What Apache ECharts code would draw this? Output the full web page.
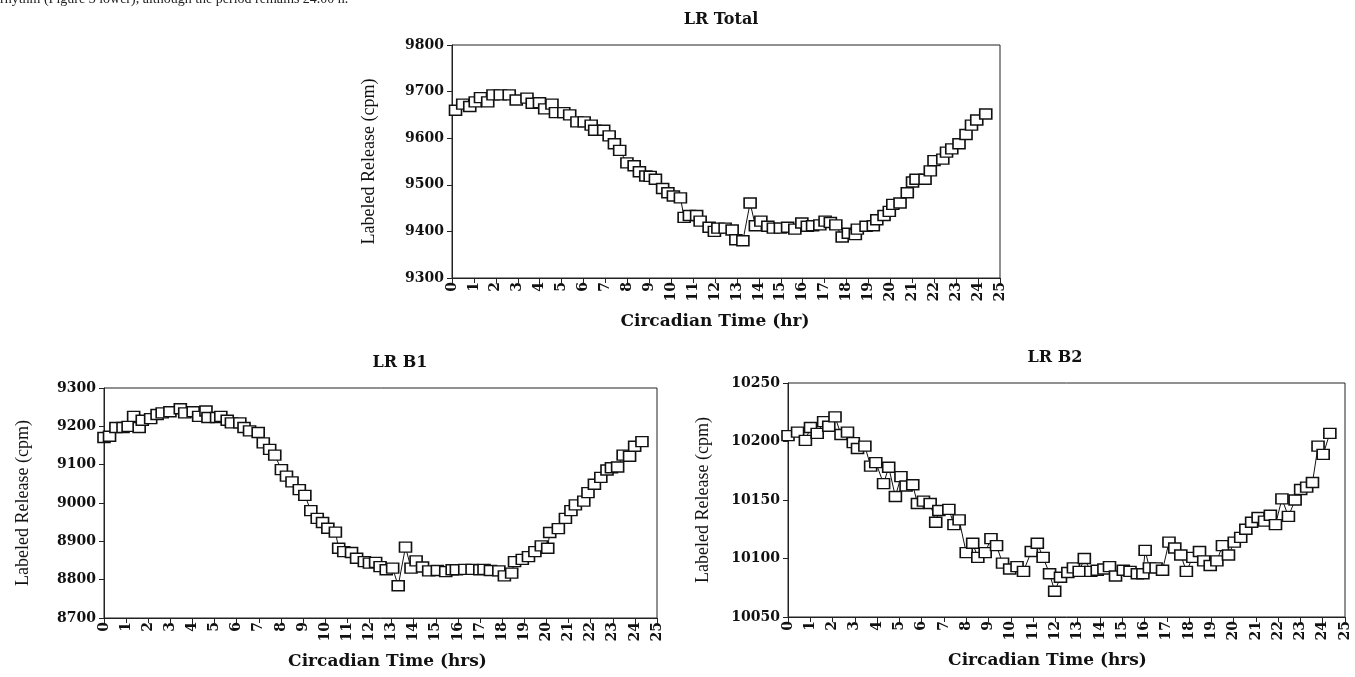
<!DOCTYPE html>
<html>
<head>
<meta charset="utf-8">
<script src="https://cdn.jsdelivr.net/npm/echarts@6/dist/echarts.min.js"></script>
<style>
  html, body { margin: 0; padding: 0; background: #fff; }
  #main { width: 1355px; height: 677px; }
</style>
</head>
<body>
<div id="main"></div>
<script>
// LR Total (hr / cpm)
const totalTime = [0.16, 0.49, 0.81, 1.06, 1.30, 1.63, 1.87, 2.20, 2.61, 2.93, 3.42, 3.66, 3.99, 4.23, 4.56, 4.72,
  5.10, 5.37, 5.70, 6.03, 6.35, 6.51, 6.92, 7.17, 7.41, 7.65, 7.98, 8.31, 8.55, 8.84, 9.04, 9.28, 9.61, 9.85,
  10.10, 10.42, 10.59, 10.83, 11.16, 11.32, 11.73, 11.97, 12.13, 12.46, 12.78, 12.95, 13.27, 13.60, 13.84,
  14.09, 14.41, 14.66, 14.98, 15.31, 15.64, 15.96, 16.21, 16.45, 16.78, 17.02, 17.26, 17.51, 17.80, 18.08,
  18.40, 18.49, 18.89, 19.22, 19.38, 19.71, 19.95, 20.11, 20.44, 20.77, 21.01, 21.17, 21.58, 21.82, 21.99,
  22.39, 22.56, 22.80, 23.13, 23.45, 23.70, 23.94, 24.35];
const totalValue = [9660, 9673, 9668, 9678, 9687, 9678, 9693, 9693, 9693, 9682, 9686, 9675, 9676, 9663, 9673, 9655,
  9655, 9650, 9635, 9635, 9628, 9617, 9617, 9605, 9588, 9574, 9547, 9541, 9528, 9519, 9518, 9512, 9492, 9483,
  9476, 9472, 9430, 9434, 9434, 9422, 9409, 9400, 9407, 9407, 9403, 9382, 9380, 9461, 9412,
  9422, 9411, 9407, 9407, 9409, 9405, 9418, 9411, 9412, 9414, 9422, 9419, 9414, 9388, 9396,
  9393, 9405, 9411, 9412, 9425, 9434, 9443, 9458, 9461, 9483, 9506, 9512, 9512, 9530, 9552,
  9555, 9570, 9577, 9588, 9608, 9628, 9639, 9652];

// LR B1
const b1Time = [0, 0.25, 0.54, 0.86, 1.09, 1.34, 1.59, 1.73, 2.11, 2.40, 2.63, 2.98, 3.45, 3.65, 4.03, 4.28,
  4.61, 4.70, 5.09, 5.28, 5.57, 5.76, 6.14, 6.33, 6.58, 6.97, 7.20, 7.49, 7.72, 8.02, 8.25, 8.50, 8.83, 9.08,
  9.35, 9.64, 9.88, 10.12, 10.46, 10.61, 10.84, 11.19, 11.42, 11.77, 12.00, 12.28, 12.48, 12.76, 13.05, 13.30,
  13.63, 13.88, 14.11, 14.40, 14.68, 15.07, 15.45, 15.74, 15.93, 16.31, 16.64, 16.99, 17.18, 17.47, 17.85,
  18.10, 18.43, 18.56, 18.91, 19.19, 19.48, 19.77, 20.06, 20.15, 20.54, 20.86, 21.11, 21.31, 21.69, 21.88,
  22.17, 22.46, 22.74, 22.94, 23.22, 23.47, 23.76, 23.99, 24.32];
const b1Value = [9171, 9174, 9197, 9197, 9200, 9226, 9197, 9216, 9220, 9231, 9235, 9238, 9246, 9235, 9238, 9226,
  9240, 9223, 9223, 9226, 9216, 9209, 9209, 9197, 9188, 9184, 9157, 9140, 9125, 9087, 9070, 9055, 9035, 9020,
  8980, 8960, 8949, 8934, 8924, 8882, 8873, 8871, 8856, 8847, 8843, 8845, 8834, 8826, 8830, 8784,
  8885, 8830, 8849, 8833, 8823, 8824, 8821, 8826, 8826, 8827, 8827, 8826, 8827, 8824, 8823,
  8810, 8817, 8847, 8853, 8860, 8873, 8888, 8882, 8923, 8933, 8960, 8980, 8995, 9005, 9027,
  9049, 9067, 9086, 9092, 9094, 9125, 9122, 9148, 9160];

// LR B2
const b2Time = [0, 0.43, 0.78, 1.01, 1.31, 1.60, 1.83, 2.11, 2.38, 2.67, 2.93, 3.12, 3.45, 3.71, 3.94, 4.29,
  4.52, 4.82, 5.07, 5.30, 5.60, 5.81, 6.08, 6.38, 6.63, 6.77, 7.22, 7.45, 7.68, 8.00, 8.29, 8.52, 8.85, 9.11,
  9.36, 9.63, 9.95, 10.28, 10.57, 10.92, 11.19, 11.45, 11.74, 11.97, 12.23, 12.56, 12.81, 13.07, 13.30, 13.59,
  13.88, 14.18, 14.43, 14.70, 15.05, 15.35, 15.68, 15.93, 16.03, 16.22, 16.52, 16.81, 17.10, 17.36, 17.63,
  17.88, 18.17, 18.47, 18.66, 18.95, 19.25, 19.50, 19.77, 20.03, 20.32, 20.55, 20.81, 21.10, 21.39, 21.65,
  21.88, 22.17, 22.46, 22.76, 23.01, 23.28, 23.54, 23.79, 24.02, 24.32];
const b2Value = [10205, 10208, 10201, 10212, 10207, 10217, 10213, 10221, 10206, 10208, 10199, 10194, 10196, 10179,
  10182, 10164, 10178, 10153, 10170, 10162, 10163, 10147, 10149, 10147, 10131, 10141, 10142, 10129, 10133,
  10105, 10113, 10101, 10105, 10117, 10111, 10096, 10091, 10093, 10089, 10106, 10113, 10101, 10087, 10072,
  10084, 10088, 10092, 10089, 10100, 10089, 10090, 10091, 10093, 10085, 10090, 10089, 10087, 10087, 10107,
  10092, 10092, 10090, 10114, 10109, 10103, 10089, 10101, 10106, 10098, 10094, 10098, 10111, 10103, 10114,
  10118, 10125, 10131, 10135, 10132, 10137, 10129, 10151, 10136, 10150, 10159, 10161, 10165, 10196, 10189, 10207];

const hourTicks = { min: 0, max: 25, interval: 1 };
const totalTicks = { min: 9300, max: 9800, interval: 100 };
const b1Ticks = { min: 8700, max: 9300, interval: 100 };
const b2Ticks = { min: 10050, max: 10250, interval: 50 };

const chart = echarts.init(document.getElementById("main"));

const ink = "#222";
const tickFont = {
  color: "#111",
  fontFamily: "DejaVu Serif",
  fontWeight: "bold",
  fontSize: 14
};

function zip(xs, ys) {
  return xs.map((x, i) => [x, ys[i]]);
}

function makeX(gridIndex, name, pad) {
  return {
    type: "value",
    gridIndex: gridIndex,
    min: hourTicks.min,
    max: hourTicks.max,
    interval: hourTicks.interval,
    name: name,
    nameLocation: "middle",
    nameGap: 35,
    nameTextStyle: {
      color: "#111",
      fontFamily: "DejaVu Serif",
      fontWeight: "bold",
      fontSize: 17,
      padding: pad
    },
    axisLine: { lineStyle: { color: ink, width: 1 } },
    axisTick: { length: 5, lineStyle: { color: ink } },
    axisLabel: Object.assign({ rotate: 90, margin: 4, showMinLabel: true, showMaxLabel: true,
      formatter: v => String(v) }, tickFont),
    splitLine: { show: false }
  };
}

function makeY(gridIndex, ticks, gap) {
  return {
    type: "value",
    gridIndex: gridIndex,
    min: ticks.min,
    max: ticks.max,
    interval: ticks.interval,
    name: "Labeled Release (cpm)",
    nameLocation: "middle",
    nameRotate: 90,
    nameGap: gap,
    nameTextStyle: {
      color: "#111",
      fontFamily: "Liberation Serif",
      fontSize: 18
    },
    axisLine: { show: true, lineStyle: { color: ink, width: 1 } },
    axisTick: { show: true, length: 5, lineStyle: { color: ink } },
    axisLabel: Object.assign({ margin: 8, formatter: v => String(v) }, tickFont),
    splitLine: { show: false }
  };
}

function makeSeries(idx, data) {
  return {
    type: "line",
    xAxisIndex: idx,
    yAxisIndex: idx,
    data: data,
    symbol: "rect",
    symbolSize: [12, 10],
    showAllSymbol: true,
    lineStyle: { color: "#111", width: 1 },
    itemStyle: { color: "#fff", borderColor: "#111", borderWidth: 1.5 },
    animation: false
  };
}

const titleFont = {
  color: "#111",
  fontFamily: "DejaVu Serif",
  fontWeight: "bold",
  fontSize: 16
};

chart.setOption({
  animation: false,
  title: [
    { text: "LR Total", left: 716, top: 7, textAlign: "center", textStyle: titleFont },
    { text: "LR B1", left: 395, top: 350, textAlign: "center", textStyle: titleFont },
    { text: "LR B2", left: 1050, top: 345, textAlign: "center", textStyle: titleFont }
  ],
  graphic: [
    {
      type: "text",
      left: 0,
      top: -8,
      style: {
        text: "rhythm (Figure 3 lower), although the period remains 24.00 h.",
        fill: "#222",
        font: "14px 'Liberation Serif'"
      }
    }
  ],
  grid: [
    { left: 452, top: 45, width: 548, height: 233, show: true, borderColor: ink, borderWidth: 1 },
    { left: 104, top: 388, width: 553, height: 230, show: true, borderColor: ink, borderWidth: 1 },
    { left: 788, top: 383, width: 557, height: 234, show: true, borderColor: ink, borderWidth: 1 }
  ],
  xAxis: [
    makeX(0, "Circadian Time (hr)", [0, 22, 0, 0]),
    makeX(1, "Circadian Time (hrs)", [0, 0, 0, 14]),
    makeX(2, "Circadian Time (hrs)", [0, 38, 0, 0])
  ],
  yAxis: [
    makeY(0, totalTicks, 74),
    makeY(1, b1Ticks, 72),
    makeY(2, b2Ticks, 76)
  ],
  series: [
    makeSeries(0, zip(totalTime, totalValue)),
    makeSeries(1, zip(b1Time, b1Value)),
    makeSeries(2, zip(b2Time, b2Value))
  ]
});
</script>
</body>
</html>
